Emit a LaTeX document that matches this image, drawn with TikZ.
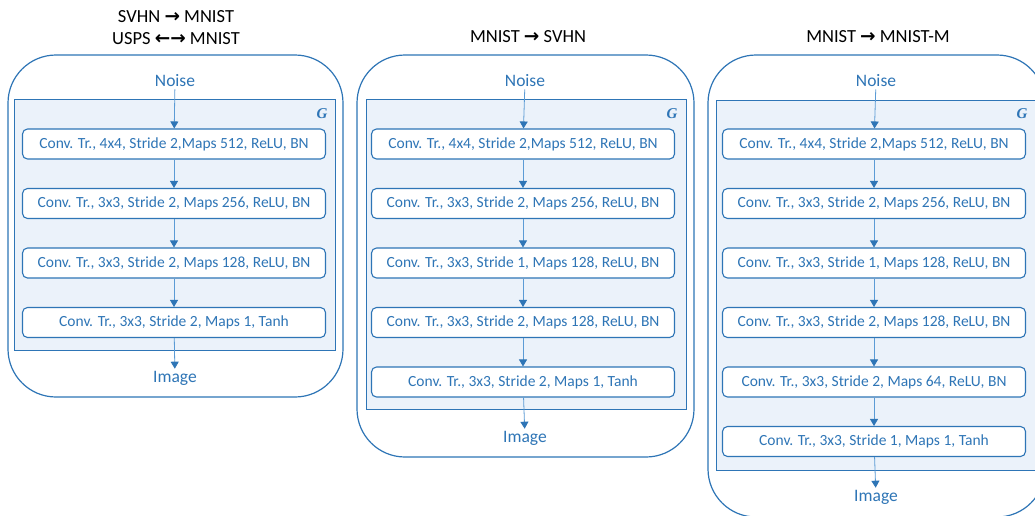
\documentclass[tikz,border=0pt]{standalone}
\usepackage{fontspec}
\setmainfont{Carlito}
\newfontfamily\symf{DejaVu Sans}
\newfontfamily\gfont{Liberation Serif}
\usetikzlibrary{arrows.meta}
\definecolor{bl}{HTML}{2E75B6}
\definecolor{lbl}{HTML}{5B9BD5}
\definecolor{gfill}{HTML}{EBF2FA}
\tikzset{
  panel/.style={draw=bl, line width=1.2pt, rounded corners=48pt},
  gbox/.style={draw=bl, fill=gfill, line width=1pt},
  stage/.style={draw=bl, fill=white, line width=1.1pt, rounded corners=5pt,
    minimum width=303pt, minimum height=30pt, inner sep=0pt, text=bl,
    font=\fontsize{15.5}{18}\selectfont},
  io/.style={text=bl, inner sep=2pt, font=\fontsize{17.5}{20}\selectfont},
  ttl/.style={text=black, inner sep=0pt, font=\fontsize{18.5}{22}\selectfont, align=center},
  glbl/.style={text=bl, inner sep=0pt, font=\gfont\fontsize{15}{18}\selectfont\bfseries\itshape},
  arr/.style={draw=lbl, line width=0.8pt, -{Triangle[width=8pt,length=7pt,fill=bl,color=bl]}}
}
\begin{document}
\begin{tikzpicture}[x=1pt,y=-1pt]
\clip (0,0) rectangle (1035,515);
\fill[white] (0,0) rectangle (1035,515);

% ---------- Panel 1 ----------
\node[ttl] (t1) at (176,28) {SVHN {\symf\bfseries →} MNIST\\[0pt]USPS {\symf\bfseries ←→} MNIST};
\draw[panel] (8,55) rectangle (343,397);
\draw[gbox] (14,99) rectangle (335,350);
\node[glbl] (g1) at (322,114) {G};
\node[io] (n1) at (175,81) {Noise};
\node[stage] (a1) at (174,144) {Conv. Tr., 4x4, Stride 2,Maps 512, ReLU, BN};
\node[stage] (a2) at (174,203.5) {Conv. Tr., 3x3, Stride 2, Maps 256, ReLU, BN};
\node[stage] (a3) at (174,263) {Conv. Tr., 3x3, Stride 2, Maps 128, ReLU, BN};
\node[stage] (a4) at (174,322.5) {Conv. Tr., 3x3, Stride 2, Maps 1, Tanh};
\node[io] (i1) at (175,378) {Image};
\draw[arr] (n1) -- (a1);
\draw[arr] (a1) -- (a2);
\draw[arr] (a2) -- (a3);
\draw[arr] (a3) -- (a4);
\draw[arr] (a4) -- (i1);

% ---------- Panel 2 ----------
\node[ttl] (t2) at (528,37) {MNIST {\symf\bfseries →} SVHN};
\draw[panel] (357,55) rectangle (694,457);
\draw[gbox] (366,99) rectangle (686,409);
\node[glbl] (g2) at (672,114) {G};
\node[io] (n2) at (525,81) {Noise};
\node[stage] (b1) at (523,144) {Conv. Tr., 4x4, Stride 2,Maps 512, ReLU, BN};
\node[stage] (b2) at (523,203.5) {Conv. Tr., 3x3, Stride 2, Maps 256, ReLU, BN};
\node[stage] (b3) at (523,263) {Conv. Tr., 3x3, Stride 1, Maps 128, ReLU, BN};
\node[stage] (b4) at (523,322.5) {Conv. Tr., 3x3, Stride 2, Maps 128, ReLU, BN};
\node[stage] (b5) at (523,382) {Conv. Tr., 3x3, Stride 2, Maps 1, Tanh};
\node[io] (i2) at (525,438) {Image};
\draw[arr] (n2) -- (b1);
\draw[arr] (b1) -- (b2);
\draw[arr] (b2) -- (b3);
\draw[arr] (b3) -- (b4);
\draw[arr] (b4) -- (b5);
\draw[arr] (b5) -- (i2);

% ---------- Panel 3 ----------
\node[ttl] (t3) at (878,37) {MNIST {\symf\bfseries →} MNIST-M};
\draw[panel] (708,55) rectangle (1045,517);
\draw[gbox] (716,100) rectangle (1037,470);
\node[glbl] (g3) at (1022,114) {G};
\node[io] (n3) at (876,81) {Noise};
\node[stage] (c1) at (874,144) {Conv. Tr., 4x4, Stride 2,Maps 512, ReLU, BN};
\node[stage] (c2) at (874,203.5) {Conv. Tr., 3x3, Stride 2, Maps 256, ReLU, BN};
\node[stage] (c3) at (874,263) {Conv. Tr., 3x3, Stride 1, Maps 128, ReLU, BN};
\node[stage] (c4) at (874,322.5) {Conv. Tr., 3x3, Stride 2, Maps 128, ReLU, BN};
\node[stage] (c5) at (874,382) {Conv. Tr., 3x3, Stride 2, Maps 64, ReLU, BN};
\node[stage] (c6) at (874,441.5) {Conv. Tr., 3x3, Stride 1, Maps 1, Tanh};
\node[io] (i3) at (876,497) {Image};
\draw[arr] (n3) -- (c1);
\draw[arr] (c1) -- (c2);
\draw[arr] (c2) -- (c3);
\draw[arr] (c3) -- (c4);
\draw[arr] (c4) -- (c5);
\draw[arr] (c5) -- (c6);
\draw[arr] (c6) -- (i3);
\end{tikzpicture}
\end{document}
